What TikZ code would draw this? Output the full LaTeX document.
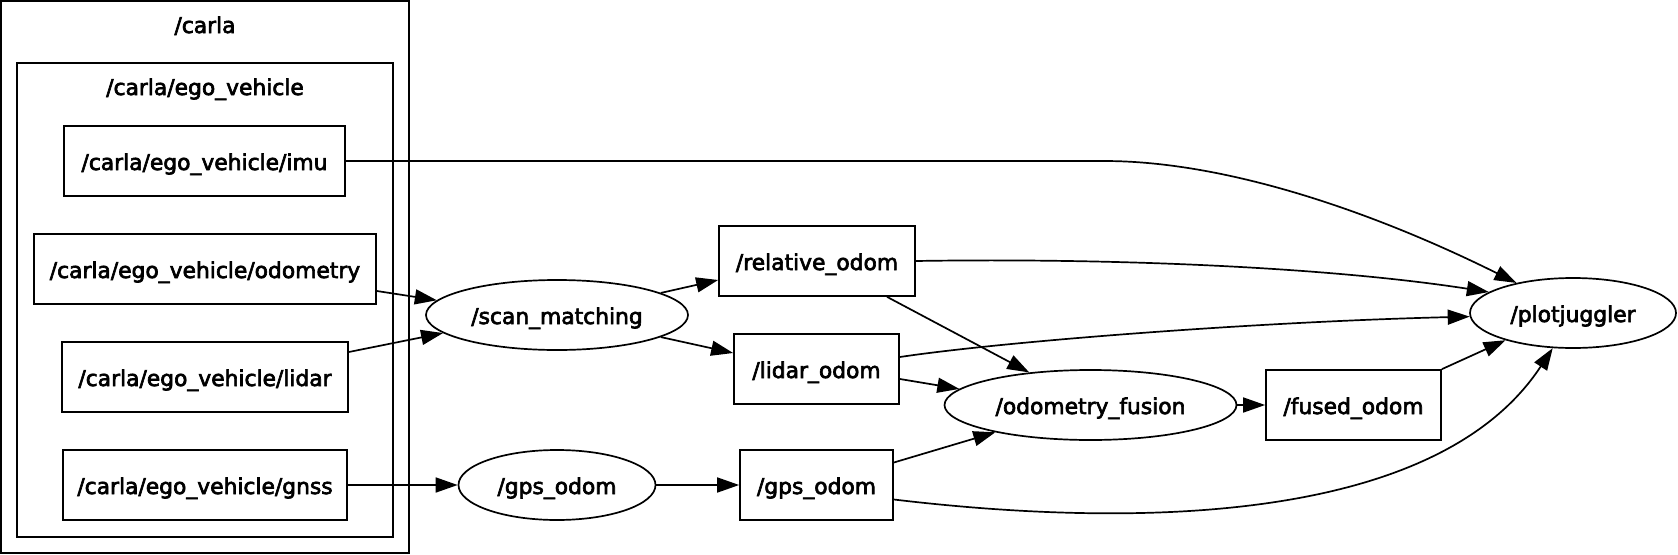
\documentclass[tikz,border=0pt]{standalone}
\usepackage{fontspec}
\setmainfont{DejaVu Sans}[FakeBold=3]
\usetikzlibrary{shapes.geometric,arrows.meta}
\begin{document}
\begin{tikzpicture}[x=1pt,y=-1pt,
  lw/.style={line width=1.7pt},
  nodebox/.style={lw,draw,rectangle,inner sep=0pt,minimum height=70pt,text height=18pt,text depth=0pt},
  nodeell/.style={lw,draw,ellipse,inner sep=0pt,minimum height=70pt,text height=18pt,text depth=0pt},
  cluster/.style={lw,draw},
  clabel/.style={anchor=base,inner sep=0pt},
  conn/.style={lw,-{Triangle[length=22pt,width=15pt]}},
  every node/.style={font=\fontsize{21.8}{26}\selectfont}
]
\useasboundingbox (0,0) rectangle (1678,554);
% clusters
\draw[cluster] (1,1) rectangle (409,553);
\node[clabel] (lcarla) at (205,33) {/carla};
\draw[cluster] (17,63) rectangle (393,537);
\node[clabel] (lego) at (205,95) {/carla/ego\_vehicle};
% nodes
\node[nodebox,minimum width=281pt] (imu) at (204.5,161) {/carla/ego\_vehicle/imu};
\node[nodebox,minimum width=342pt] (odom) at (205,269) {/carla/ego\_vehicle/odometry};
\node[nodebox,minimum width=286pt] (lidar) at (205,377) {/carla/ego\_vehicle/lidar};
\node[nodebox,minimum width=284pt] (gnss) at (205,485) {/carla/ego\_vehicle/gnss};
\node[nodeell,minimum width=262pt] (scan) at (557,315) {/scan\_matching};
\node[nodeell,minimum width=197pt] (gpse) at (557,485) {/gps\_odom};
\node[nodebox,minimum width=196pt] (rel) at (817,261) {/relative\_odom};
\node[nodebox,minimum width=165pt] (lid) at (816.5,369) {/lidar\_odom};
\node[nodebox,minimum width=153pt] (gpsb) at (816.5,485) {/gps\_odom};
\node[nodeell,minimum width=292pt] (fus) at (1090.5,405) {/odometry\_fusion};
\node[nodebox,minimum width=175pt] (fused) at (1353.5,405) {/fused\_odom};
\node[nodeell,minimum width=206pt] (pj) at (1573,313) {/plotjuggler};
% connectors
\draw[conn] (imu.east) -- (1104,161) .. controls (1230,161) and (1380,215) .. (pj.152);
\draw[conn] (rel.east) .. controls (1100,258) and (1320,266) .. (pj.166);
\draw[conn] ([yshift=12pt]lid.east) .. controls (1000,342) and (1250,322) .. (pj.182);
\draw[conn] (fused.north east) -- (pj.202);
\draw[conn] ([yshift=-14.5pt]gpsb.east) .. controls (1150,530) and (1440,520) .. (pj.240);
\draw[conn] ([yshift=-22pt]odom.east) -- (scan.173);
\draw[conn] ([yshift=25pt]lidar.east) -- (scan.189);
\draw[conn] (scan.12) -- ([yshift=-19pt]rel.west);
\draw[conn] (scan.-12) -- ([yshift=16pt]lid.west);
\draw[conn] (gnss.east) -- (gpse.west);
\draw[conn] (gpse.east) -- (gpsb.west);
\draw[conn] ([xshift=70pt]rel.south) -- (fus.152);
\draw[conn] ([yshift=-10pt]lid.east) -- (fus.173);
\draw[conn] ([yshift=22.5pt]gpsb.east) -- (fus.196);
\draw[conn] (fus.east) -- (fused.west);
\end{tikzpicture}
\end{document}
